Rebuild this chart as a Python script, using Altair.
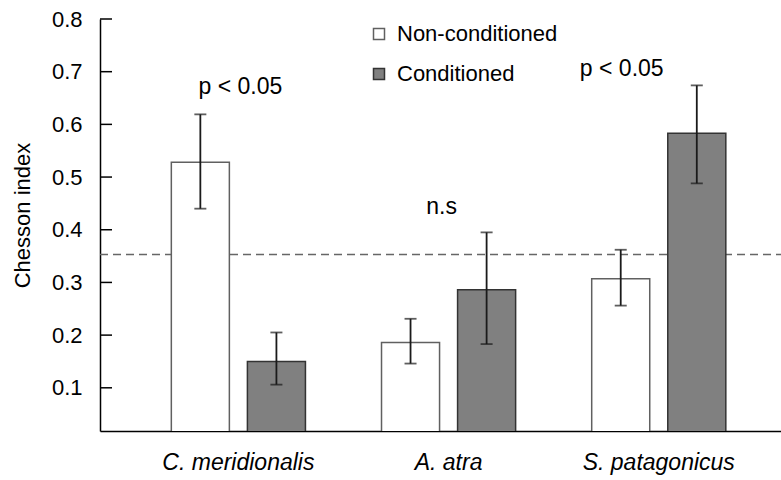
import altair as alt
import pandas as pd

species = ["C. meridionalis", "A. atra", "S. patagonicus"]
groups = ["Non-conditioned", "Conditioned"]
non_mean = [0.528, 0.186, 0.307]
non_lo = [0.440, 0.146, 0.256]
non_hi = [0.619, 0.231, 0.362]
con_mean = [0.150, 0.286, 0.583]
con_lo = [0.106, 0.183, 0.488]
con_hi = [0.205, 0.395, 0.674]
ref_value = [0.353]
y_ticks = [0.1, 0.2, 0.3, 0.4, 0.5, 0.6, 0.7, 0.8]
ann_species = ["C. meridionalis", "A. atra", "S. patagonicus"]
ann_text = ["p < 0.05", "n.s", "p < 0.05"]
ann_y = [0.67, 0.444, 0.706]
ann_dx = [2, -7, -37]

rows = []
for i, s in enumerate(species):
    rows.append(dict(species=s, group=groups[0], mean=non_mean[i], lo=non_lo[i], hi=non_hi[i]))
    rows.append(dict(species=s, group=groups[1], mean=con_mean[i], lo=con_lo[i], hi=con_hi[i]))
df = pd.DataFrame(rows)
ann = pd.DataFrame(dict(species=ann_species, text=ann_text, y=ann_y))
refdf = pd.DataFrame(dict(y=ref_value))
tickdf = pd.DataFrame(dict(y=y_ticks))

FONT = "Liberation Sans"
yscale = alt.Scale(domain=[0.018, 0.8], nice=False, zero=False)
xscale = alt.Scale(domain=species, paddingInner=0, paddingOuter=0.12, align=0.66)
offscale = alt.Scale(domain=groups, paddingInner=0.237, paddingOuter=0.5)

x_enc = alt.X("species:N", scale=xscale, sort=species,
              axis=alt.Axis(title=None, ticks=False, labelAngle=0, labelFontSize=23,
                            labelFontStyle="italic", labelPadding=20, labelFont=FONT,
                            labelColor="black", domainColor="black", domainWidth=1.5))
y_enc = alt.Y("mean:Q", scale=yscale,
              axis=alt.Axis(title="Chesson index", values=y_ticks, ticks=False, grid=False,
                            labelFontSize=22, labelPadding=18, labelFont=FONT, labelColor="black",
                            format=".1f", domainColor="black", domainWidth=1.5,
                            titleFontSize=22, titleFont=FONT, titleFontWeight="normal",
                            titleColor="black", titlePadding=17, titleY=196))

bars = alt.Chart(df).mark_bar(clip=True, strokeWidth=1.5).encode(
    x=x_enc,
    xOffset=alt.XOffset("group:N", scale=offscale, sort=groups),
    y=y_enc,
    fill=alt.Fill("group:N", scale=alt.Scale(domain=groups, range=["#ffffff", "#808080"]),
                  sort=groups,
                  legend=alt.Legend(title=None, orient="none", legendX=268, legendY=4,
                                    symbolType="square", symbolSize=121, symbolStrokeColor="#222",
                                    symbolStrokeWidth=1.5, labelFontSize=22, labelFont=FONT,
                                    labelColor="black", rowPadding=18, labelOffset=7,
                                    labelLimit=400)),
    stroke=alt.Stroke("group:N", scale=alt.Scale(domain=groups, range=["#606060", "#333333"]),
                      legend=None),
)

xs = alt.X("species:N", scale=xscale, sort=species)
xo = alt.XOffset("group:N", scale=offscale, sort=groups)

err = alt.Chart(df).mark_rule(color="#1a1a1a", strokeWidth=1.8).encode(
    x=xs, xOffset=xo, y=alt.Y("lo:Q", scale=yscale), y2="hi:Q",
)
cap_hi = alt.Chart(df).mark_tick(color="#1a1a1a", thickness=1.8, size=12, orient="horizontal").encode(
    x=xs, xOffset=xo, y=alt.Y("hi:Q", scale=yscale),
)
cap_lo = alt.Chart(df).mark_tick(color="#1a1a1a", thickness=1.8, size=12, orient="horizontal").encode(
    x=xs, xOffset=xo, y=alt.Y("lo:Q", scale=yscale),
)

ref = alt.Chart(refdf).mark_rule(color="#666666", strokeWidth=1.5, strokeDash=[8, 5]).encode(
    y=alt.Y("y:Q", scale=yscale),
    x=alt.value(0), x2=alt.value(681),
)

yt = alt.Chart(tickdf).mark_rule(color="black", strokeWidth=1.5).encode(
    y=alt.Y("y:Q", scale=yscale),
    x=alt.value(0), x2=alt.value(12),
)

text_layers = []
for i in range(len(ann_species)):
    text_layers.append(
        alt.Chart(ann.iloc[[i]]).mark_text(fontSize=23, font=FONT, color="black", dx=ann_dx[i]).encode(
            x=xs, y=alt.Y("y:Q", scale=yscale), text="text:N")
    )

chart = alt.layer(ref, bars, err, cap_hi, cap_lo, yt, *text_layers).properties(
    width=681, height=412,
    padding={"left": 100, "top": 19, "right": 0, "bottom": 49},
    autosize="none",
    background="white",
).configure_view(stroke=None)

chart.save("out.html", embed_options={"renderer": "svg", "actions": False})
